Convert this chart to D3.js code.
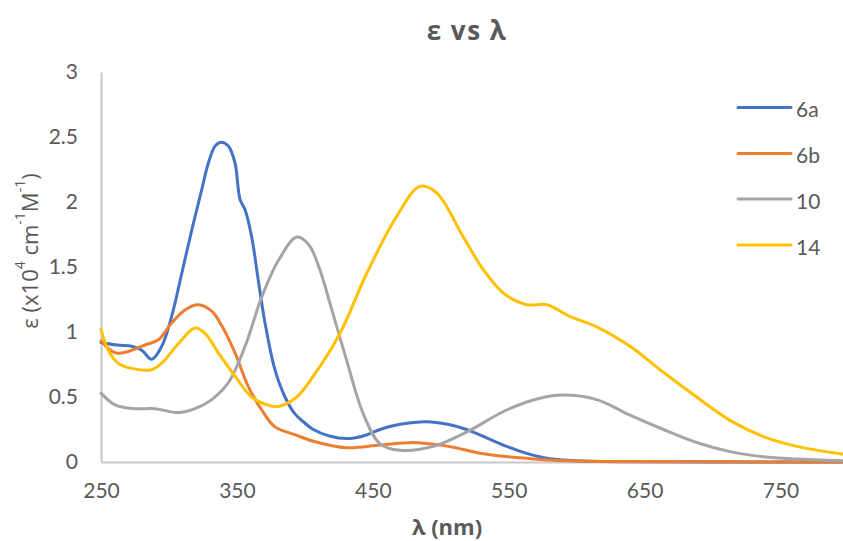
<!DOCTYPE html>
<html>
<head>
<meta charset="utf-8">
<script src="https://cdn.jsdelivr.net/npm/d3@7"></script>
<style>
  html, body { margin: 0; padding: 0; background: #fff; }
  svg { display: block; font-family: Lato, "Open Sans", sans-serif; }
</style>
</head>
<body>
<script>
// Absorption spectra: wavelength (nm) and molar absorptivity (x10^4 cm^-1 M^-1)
const wl6a = [250, 262, 272.6, 280, 287.3, 294.7, 302, 309.4, 316.7, 324, 329, 333.9, 338.3, 343.7, 348.6, 352.3, 356, 360.9, 365.7, 370.7, 378, 385.4, 392.7, 400, 406.2, 418, 430.8, 443, 455.3, 470, 489.7, 505, 519, 535, 548.5, 562, 575, 590, 610, 640, 700, 800];
const eps6a = [0.92, 0.90, 0.89, 0.86, 0.79, 0.89, 1.12, 1.45, 1.78, 2.09, 2.30, 2.43, 2.46, 2.43, 2.30, 2.02, 1.94, 1.73, 1.40, 1.07, 0.71, 0.50, 0.37, 0.30, 0.25, 0.20, 0.18, 0.20, 0.25, 0.29, 0.31, 0.29, 0.25, 0.18, 0.12, 0.07, 0.035, 0.015, 0.005, 0.002, 0, 0];

const wl6b = [250, 260.3, 270, 282.4, 292.2, 302, 311.8, 321.6, 331.5, 338.8, 348.6, 358.4, 368.3, 378, 392.7, 406.2, 430.8, 455.3, 479.8, 499.5, 515, 528.9, 553.4, 573, 600, 650, 800];
const eps6b = [0.93, 0.84, 0.85, 0.90, 0.94, 1.07, 1.17, 1.21, 1.16, 1.05, 0.84, 0.58, 0.40, 0.27, 0.21, 0.16, 0.11, 0.13, 0.15, 0.13, 0.10, 0.067, 0.036, 0.02, 0.008, 0.003, 0];

const wl10 = [250, 260.3, 275, 289.7, 306.9, 319.2, 331.5, 343.7, 356, 368.3, 380.5, 394, 403, 411, 418.5, 430.8, 443, 455.3, 470, 494.5, 519, 548.5, 573, 590, 614.7, 639.3, 663.8, 688.3, 712.8, 737.4, 762, 796, 800];
const eps10 = [0.53, 0.44, 0.41, 0.41, 0.38, 0.41, 0.48, 0.61, 0.89, 1.27, 1.55, 1.73, 1.67, 1.48, 1.22, 0.78, 0.37, 0.14, 0.09, 0.12, 0.23, 0.40, 0.49, 0.515, 0.48, 0.36, 0.25, 0.15, 0.08, 0.04, 0.023, 0.01, 0.01];

const wl14 = [250, 255.4, 262.7, 272.6, 287.3, 294.7, 306.9, 319.2, 326.5, 336.3, 348.6, 360.9, 375.6, 381.7, 394, 406.2, 425.9, 445.5, 467.6, 484.7, 497, 516.6, 531.3, 546, 563.2, 578, 595, 614.7, 639.3, 663.8, 688.3, 712.8, 737.4, 762, 796, 800];
const eps14 = [1.02, 0.86, 0.76, 0.72, 0.71, 0.76, 0.91, 1.03, 0.99, 0.84, 0.66, 0.50, 0.43, 0.43, 0.50, 0.66, 0.99, 1.45, 1.89, 2.12, 2.07, 1.73, 1.48, 1.30, 1.21, 1.21, 1.12, 1.04, 0.89, 0.69, 0.50, 0.32, 0.195, 0.12, 0.06, 0.055];

const seriesNames = ["6a", "6b", "10", "14"];
const seriesColors = ["#4472C4", "#ED7D31", "#A5A5A5", "#FFC000"];
const xTicks = [250, 350, 450, 550, 650, 750];
const yTicks = [0, 0.5, 1, 1.5, 2, 2.5, 3];

const series = [
  { name: seriesNames[0], color: seriesColors[0], pts: wl6a.map((w, i) => [w, eps6a[i]]) },
  { name: seriesNames[1], color: seriesColors[1], pts: wl6b.map((w, i) => [w, eps6b[i]]) },
  { name: seriesNames[2], color: seriesColors[2], pts: wl10.map((w, i) => [w, eps10[i]]) },
  { name: seriesNames[3], color: seriesColors[3], pts: wl14.map((w, i) => [w, eps14[i]]) }
];

const W = 843, H = 541;
const plotLeft = 101, plotTop = 72, plotBottom = 462;
const svg = d3.select("body").append("svg").attr("width", W).attr("height", H);

const x = d3.scaleLinear().domain([250, 800]).range([plotLeft, plotLeft + 550 * 1.359]);
const y = d3.scaleLinear().domain([0, 3]).range([plotBottom, plotTop]);

const textColor = "#595959";
const axisColor = "#C8C8C8";
const greekFont = "'Open Sans', sans-serif";

// Title
svg.append("text").attr("x", 467).attr("y", 30).attr("text-anchor", "middle")
  .attr("dominant-baseline", "central")
  .style("font-family", greekFont)
  .style("font-size", "26px").style("font-weight", "bold").style("fill", textColor)
  .style("letter-spacing", "1.5px")
  .text("ε vs λ");

// Axes
const xAxis = svg.append("g").attr("transform", `translate(0,${plotBottom})`)
  .call(d3.axisBottom(x).tickValues(xTicks).tickSize(0).tickPadding(21).tickFormat(d3.format("d")));
xAxis.select(".domain").attr("stroke", axisColor).attr("stroke-width", 2);
xAxis.selectAll("text").style("font-size", "21px").style("fill", textColor).style("font-family", "Lato, sans-serif");

const yAxis = svg.append("g").attr("transform", `translate(${plotLeft},0)`)
  .call(d3.axisLeft(y).tickValues(yTicks).tickSize(0).tickPadding(23).tickFormat(d => String(d)));
yAxis.select(".domain").attr("stroke", axisColor).attr("stroke-width", 2);
yAxis.selectAll("text").style("font-size", "21px").style("fill", textColor).style("font-family", "Lato, sans-serif");

// Axis titles
svg.append("text").attr("x", 447).attr("y", 526).attr("text-anchor", "middle")
  .attr("dominant-baseline", "central")
  .style("font-family", greekFont)
  .style("font-size", "22px").style("font-weight", "bold").style("fill", textColor)
  .text("λ (nm)");

const yt = svg.append("text").attr("transform", "translate(29,251) rotate(-90)")
  .attr("text-anchor", "middle").attr("dominant-baseline", "central")
  .style("font-family", greekFont)
  .style("font-size", "22px").style("fill", textColor);
yt.append("tspan").text("ε (x10");
yt.append("tspan").attr("baseline-shift", "super").style("font-size", "14px").text("4");
yt.append("tspan").text(" cm");
yt.append("tspan").attr("baseline-shift", "super").style("font-size", "14px").text("-1");
yt.append("tspan").text("M");
yt.append("tspan").attr("baseline-shift", "super").style("font-size", "14px").text("-1");
yt.append("tspan").text(")");

// Spectra
const line = d3.line().x(d => x(d[0])).y(d => y(d[1])).curve(d3.curveCatmullRom.alpha(0.5));
svg.append("g").selectAll("path").data(series).join("path")
  .attr("d", d => line(d.pts))
  .attr("fill", "none")
  .attr("stroke", d => d.color)
  .attr("stroke-width", 3)
  .attr("stroke-linejoin", "round")
  .attr("stroke-linecap", "round");

// Legend
const legend = svg.append("g");
const legY = [107.5, 153.5, 199, 245];
series.forEach((s, i) => {
  legend.append("line").attr("x1", 738).attr("x2", 791).attr("y1", legY[i]).attr("y2", legY[i])
    .attr("stroke", s.color).attr("stroke-width", 3).attr("stroke-linecap", "round");
  legend.append("text").attr("x", 796).attr("y", legY[i] + 1).attr("dominant-baseline", "central")
    .style("font-size", "21px").style("fill", textColor).text(s.name);
});
</script>
</body>
</html>
